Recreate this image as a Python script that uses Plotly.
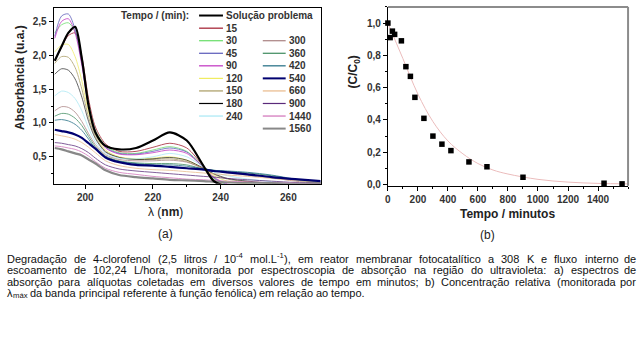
import re
import plotly.graph_objects as go

W, H = 640, 345
FONT = "Liberation Sans, Arial, sans-serif"


def px(x):
    return x / W


def py(y):
    return 1 - y / H


# ---------------- data: panel (a) UV spectra ----------------
wavelength = [191, 193, 195, 197, 199, 201, 203, 206, 210, 215, 220, 225, 230, 235, 238, 242, 248, 255, 262, 270]

abs_sol = [1.92, 2.13, 2.33, 2.42, 1.95, 1.25, 0.86, 0.66, 0.61, 0.63, 0.74, 0.86, 0.74, 0.36, 0.14, 0.06, 0.05, 0.05, 0.05, 0.05]
abs_15 = [1.92, 2.12, 2.29, 2.33, 1.98, 1.35, 0.94, 0.69, 0.58, 0.58, 0.64, 0.70, 0.63, 0.35, 0.16, 0.07, 0.05, 0.05, 0.05, 0.05]
abs_30 = [2.33, 2.45, 2.48, 2.35, 1.90, 1.28, 0.90, 0.66, 0.56, 0.55, 0.60, 0.65, 0.58, 0.34, 0.18, 0.08, 0.05, 0.05, 0.05, 0.05]
abs_45 = [2.28, 2.58, 2.61, 2.38, 1.88, 1.25, 0.88, 0.64, 0.55, 0.54, 0.58, 0.63, 0.57, 0.34, 0.19, 0.09, 0.06, 0.05, 0.05, 0.05]
abs_90 = [2.25, 2.50, 2.54, 2.33, 1.85, 1.25, 0.88, 0.63, 0.54, 0.53, 0.56, 0.60, 0.55, 0.34, 0.20, 0.10, 0.07, 0.06, 0.05, 0.05]
abs_120 = [2.05, 2.15, 2.16, 1.98, 1.62, 1.15, 0.84, 0.60, 0.50, 0.47, 0.48, 0.50, 0.45, 0.32, 0.22, 0.14, 0.10, 0.08, 0.07, 0.06]
abs_150 = [1.88, 1.98, 1.97, 1.82, 1.50, 1.08, 0.80, 0.58, 0.49, 0.46, 0.46, 0.47, 0.43, 0.32, 0.24, 0.17, 0.13, 0.10, 0.08, 0.07]
abs_180 = [1.72, 1.80, 1.78, 1.65, 1.38, 1.02, 0.77, 0.57, 0.49, 0.46, 0.47, 0.49, 0.45, 0.33, 0.25, 0.18, 0.14, 0.11, 0.09, 0.07]
abs_240 = [1.40, 1.47, 1.45, 1.36, 1.18, 0.92, 0.72, 0.55, 0.48, 0.47, 0.50, 0.55, 0.50, 0.35, 0.27, 0.22, 0.17, 0.13, 0.10, 0.08]
abs_300 = [1.18, 1.24, 1.23, 1.16, 1.02, 0.84, 0.68, 0.53, 0.46, 0.44, 0.44, 0.45, 0.42, 0.33, 0.29, 0.26, 0.23, 0.19, 0.14, 0.10]
abs_360 = [1.10, 1.14, 1.13, 1.07, 0.96, 0.80, 0.65, 0.51, 0.44, 0.41, 0.40, 0.40, 0.38, 0.32, 0.30, 0.28, 0.26, 0.22, 0.16, 0.11]
abs_420 = [1.04, 1.05, 1.03, 0.98, 0.89, 0.76, 0.62, 0.49, 0.43, 0.40, 0.38, 0.38, 0.36, 0.32, 0.30, 0.29, 0.27, 0.23, 0.17, 0.12]
abs_540 = [0.90, 0.88, 0.86, 0.83, 0.78, 0.70, 0.62, 0.49, 0.42, 0.38, 0.37, 0.35, 0.33, 0.31, 0.29, 0.27, 0.24, 0.20, 0.17, 0.14]
abs_660 = [0.83, 0.81, 0.79, 0.76, 0.71, 0.64, 0.56, 0.44, 0.37, 0.33, 0.31, 0.30, 0.28, 0.26, 0.25, 0.23, 0.21, 0.18, 0.15, 0.12]
abs_900 = [0.71, 0.70, 0.68, 0.66, 0.62, 0.56, 0.48, 0.38, 0.32, 0.29, 0.27, 0.25, 0.23, 0.21, 0.20, 0.18, 0.16, 0.14, 0.12, 0.11]
abs_1440 = [0.66, 0.65, 0.63, 0.61, 0.57, 0.51, 0.43, 0.33, 0.27, 0.24, 0.21, 0.19, 0.17, 0.16, 0.15, 0.14, 0.13, 0.12, 0.11, 0.10]
abs_1560 = [0.63, 0.61, 0.58, 0.55, 0.52, 0.46, 0.40, 0.30, 0.23, 0.20, 0.18, 0.16, 0.15, 0.14, 0.13, 0.12, 0.11, 0.11, 0.10, 0.10]

series_labels = ["Solução problema", "15", "30", "45", "90", "120", "150", "180", "240",
                 "300", "360", "420", "540", "660", "900", "1440", "1560"]
series_values = [abs_sol, abs_15, abs_30, abs_45, abs_90, abs_120, abs_150, abs_180, abs_240,
                 abs_300, abs_360, abs_420, abs_540, abs_660, abs_900, abs_1440, abs_1560]
series_colors = ["#000000", "#a0182a", "#66dd66", "#5858b8", "#c030c0", "#f0ec60", "#a89a60", "#000000",
                 "#a8e8f4", "#a88080", "#3c8a5c", "#1c6a80", "#000070", "#e8b888", "#5a2a7a", "#d070b8", "#888888"]
series_widths = [2.2, 1, 1, 1, 1, 1, 1, 0.8, 1, 1, 1, 1, 2.2, 1, 1, 1, 2.2]

# ---------------- data: panel (b) kinetics ----------------
time_min = [0, 15, 30, 45, 90, 120, 150, 180, 240, 300, 360, 420, 540, 660, 900, 1440, 1560]
c_rel = [1.0, 0.91, 0.95, 0.93, 0.89, 0.73, 0.67, 0.54, 0.41, 0.30, 0.25, 0.21, 0.14, 0.11, 0.045, 0.008, 0.004]
fit_time = [0, 100, 200, 300, 400, 500, 600, 700, 800, 1000, 1200, 1400, 1600]
fit_c = [1.0, 0.78, 0.56, 0.39, 0.27, 0.19, 0.13, 0.09, 0.065, 0.032, 0.015, 0.007, 0.004]

ytick_a = [0.5, 1.0, 1.5, 2.0, 2.5]
ytext_a = ["0,5", "1,0", "1,5", "2,0", "2,5"]
xtick_a = [200, 220, 240, 260]
ytick_b = [0.0, 0.2, 0.4, 0.6, 0.8, 1.0]
ytext_b = ["0,0", "0,2", "0,4", "0,6", "0,8", "1,0"]
xtick_b = [0, 200, 400, 600, 800, 1000, 1200, 1400]

caption = [
    "Degradação de 4-clorofenol (2,5 litros / 10<sup>-4</sup> mol.L<sup>-1</sup>), em reator membranar fotocatalítico a 308 K e fluxo interno de",
    "escoamento de 102,24 L/hora, monitorada por espectroscopia de absorção na região do ultravioleta: a) espectros de",
    "absorção para alíquotas coletadas em diversos valores de tempo em minutos; b) Concentração relativa (monitorada por",
    "λ<sub>máx</sub> da banda principal referente à função fenólica) em relação ao tempo.",
]
caption_justify = [True, True, True, False]

fig = go.Figure()

order = [i for i in range(len(series_labels)) if series_widths[i] < 2] + [16, 12, 0]
for i in order:
    fig.add_trace(go.Scatter(
        x=wavelength, y=series_values[i], mode="lines",
        line=dict(color=series_colors[i], width=series_widths[i], shape="spline", smoothing=0.8),
        opacity=1.0 if series_widths[i] > 2 else 0.75,
        xaxis="x", yaxis="y", showlegend=False, hoverinfo="skip"))

fig.add_trace(go.Scatter(
    x=fit_time, y=fit_c, mode="lines",
    line=dict(color="#ebbcbc", width=1, shape="spline"),
    xaxis="x2", yaxis="y2", showlegend=False))
fig.add_trace(go.Scatter(
    x=time_min, y=c_rel, mode="markers",
    marker=dict(symbol="square", size=5.5, color="#000000"),
    xaxis="x2", yaxis="y2", showlegend=False, cliponaxis=False))

tickfont = dict(family=FONT, size=10, color="#333333", weight="bold")
axis_common = dict(showgrid=False, zeroline=False, ticks="outside", ticklen=4, tickwidth=1,
                   linecolor="#000000", linewidth=1.2, tickcolor="#000000", tickfont=tickfont)

shapes = []
annotations = []

# panel (b) gray top/right frame
shapes.append(dict(type="line", xref="paper", yref="paper", x0=px(386.7), x1=px(628), y0=py(7), y1=py(7),
                   line=dict(color="#8c8c8c", width=2)))
shapes.append(dict(type="line", xref="paper", yref="paper", x0=px(628), x1=px(628), y0=py(7), y1=py(188),
                   line=dict(color="#8c8c8c", width=2)))

# legend (manual, two columns)
annotations.append(dict(text="<b>Tempo / (min):</b>", x=px(117), y=py(15.7), xref="paper", yref="paper",
                        xanchor="left", yanchor="middle", showarrow=False,
                        font=dict(family=FONT, size=10, color="#333333")))
row_y = [15.7, 28.5, 41.2, 53.9, 66.6, 79.3, 92.0, 104.7, 117.4, 130.1]
col1 = list(range(0, 9))
col2 = list(range(9, 17))
for r, i in enumerate(col1):
    y = row_y[r]
    shapes.append(dict(type="line", xref="paper", yref="paper", x0=px(197), x1=px(221), y0=py(y), y1=py(y),
                       line=dict(color=series_colors[i], width=2 if series_widths[i] > 2 else 1.2)))
    annotations.append(dict(text="<b>%s</b>" % series_labels[i], x=px(222), y=py(y), xref="paper", yref="paper",
                            xanchor="left", yanchor="middle", showarrow=False,
                            font=dict(family=FONT, size=10, color="#333333")))
for r, i in enumerate(col2):
    y = row_y[r + 2]
    shapes.append(dict(type="line", xref="paper", yref="paper", x0=px(261), x1=px(284), y0=py(y), y1=py(y),
                       line=dict(color=series_colors[i], width=2 if series_widths[i] > 2 else 1.2)))
    annotations.append(dict(text="<b>%s</b>" % series_labels[i], x=px(285), y=py(y), xref="paper", yref="paper",
                            xanchor="left", yanchor="middle", showarrow=False,
                            font=dict(family=FONT, size=10, color="#333333")))

title_font = dict(family=FONT, size=12, color="#222222")
annotations += [
    dict(text="<b>Absorbância (u.a.)</b>", x=px(17), y=py(78), textangle=-90, xref="paper", yref="paper",
         showarrow=False, xanchor="center", yanchor="middle", font=title_font),
    dict(text="λ (<b>nm</b>)", x=px(163), y=py(214), xref="paper", yref="paper",
         showarrow=False, xanchor="center", yanchor="middle", font=title_font),
    dict(text="(a)", x=px(163), y=py(237), xref="paper", yref="paper",
         showarrow=False, xanchor="center", yanchor="middle", font=title_font),
    dict(text="<b>(C/C<sub>0</sub>)</b>", x=px(353), y=py(73), textangle=-90, xref="paper", yref="paper",
         showarrow=False, xanchor="center", yanchor="middle", font=title_font),
    dict(text="<b>Tempo / minutos</b>", x=px(507), y=py(216.5), xref="paper", yref="paper",
         showarrow=False, xanchor="center", yanchor="middle", font=title_font),
    dict(text="(b)", x=px(487), y=py(238), xref="paper", yref="paper",
         showarrow=False, xanchor="center", yanchor="middle", font=title_font),
]

# ---- caption, justified word by word (Arial-like advance widths, /1000 em) ----
ADV = {' ': 278, 'f': 278, 'i': 222, 'j': 222, 'l': 222, 'r': 333, 't': 278, 'm': 833, 'w': 722,
       'c': 500, 'k': 500, 's': 500, 'v': 500, 'x': 500, 'y': 500, 'z': 500, 'ç': 500, 'í': 278,
       'A': 667, 'B': 667, 'C': 722, 'D': 722, 'K': 667, 'L': 556, '(': 333, ')': 333, ',': 278,
       '.': 278, '/': 278, '-': 333, ':': 278, ';': 278, 'λ': 520}
CAP_SIZE = 11
SMALL = 7.7
cap_color = "#111111"


def pieces_of(word):
    out = []
    for pc in re.split(r"(<su[bp]>.*?</su[bp]>)", word):
        if not pc:
            continue
        if pc.startswith("<sup>"):
            out.append((re.sub(r"<.*?>", "", pc), "sup"))
        elif pc.startswith("<sub>"):
            out.append((re.sub(r"<.*?>", "", pc), "sub"))
        else:
            out.append((pc, "normal"))
    return out


def piece_width(txt, kind):
    size = CAP_SIZE if kind == "normal" else SMALL
    return sum(ADV.get(ch, 556) for ch in txt) * size / 1000


def text_width(word):
    return sum(piece_width(t, k) for t, k in pieces_of(word))


def place(word, x, y, anchor="left"):
    if anchor == "right":
        annotations.append(dict(text=word, x=px(x), y=py(y), xref="paper", yref="paper", showarrow=False,
                                xanchor="right", yanchor="middle", borderpad=0,
                                font=dict(family=FONT, size=CAP_SIZE, color=cap_color)))
        return
    for t, k in pieces_of(word):
        dy = {"normal": 0, "sup": -3.2, "sub": 2.4}[k]
        size = CAP_SIZE if k == "normal" else SMALL
        annotations.append(dict(text=t, x=px(x), y=py(y + dy), xref="paper", yref="paper", showarrow=False,
                                xanchor="left", yanchor="middle", borderpad=0,
                                font=dict(family=FONT, size=size, color=cap_color)))
        x += piece_width(t, k)


cap_y = [261.7, 273.4, 285.0, 296.7]
X0, X1 = 3, 636.5
for line, y, just in zip(caption, cap_y, caption_justify):
    words = line.split(" ")
    widths = [text_width(w) for w in words]
    if just:
        gap = (X1 - X0 - sum(widths)) / (len(words) - 1)
    else:
        gap = ADV[' '] * CAP_SIZE / 1000
    xpos = X0
    for k, (w, wd) in enumerate(zip(words, widths)):
        if just and k == len(words) - 1:
            place(w, X1, y, anchor="right")
        else:
            place(w, xpos, y)
        xpos += wd + gap

fig.update_layout(
    width=W, height=H, margin=dict(l=0, r=0, t=0, b=0),
    paper_bgcolor="white", plot_bgcolor="white",
    xaxis=dict(domain=[px(51), px(319)], range=[190.7, 269.5], tickvals=xtick_a,
               ticktext=[str(v) for v in xtick_a], mirror=True, anchor="y",
               minor=dict(dtick=10, tick0=200, ticklen=2, ticks="outside", tickcolor="#000"), **axis_common),
    yaxis=dict(domain=[py(186), py(8)], range=[0.1, 2.7], tickvals=ytick_a, ticktext=ytext_a,
               mirror=True, anchor="x",
               minor=dict(dtick=0.25, tick0=0, ticklen=2, ticks="outside", tickcolor="#000"), **axis_common),
    xaxis2=dict(domain=[px(386.7), px(628)], range=[0, 1600], tickvals=xtick_b,
                ticktext=[str(v) for v in xtick_b], anchor="y2",
                minor=dict(dtick=100, tick0=0, ticklen=2, ticks="outside", tickcolor="#000"), **axis_common),
    yaxis2=dict(domain=[py(188), py(7)], range=[-0.008, 1.1], tickvals=ytick_b, ticktext=ytext_b, anchor="x2",
                minor=dict(dtick=0.1, tick0=0, ticklen=2, ticks="outside", tickcolor="#000"), **axis_common),
    shapes=shapes, annotations=annotations, showlegend=False,
)

fig.write_html("out.html")
